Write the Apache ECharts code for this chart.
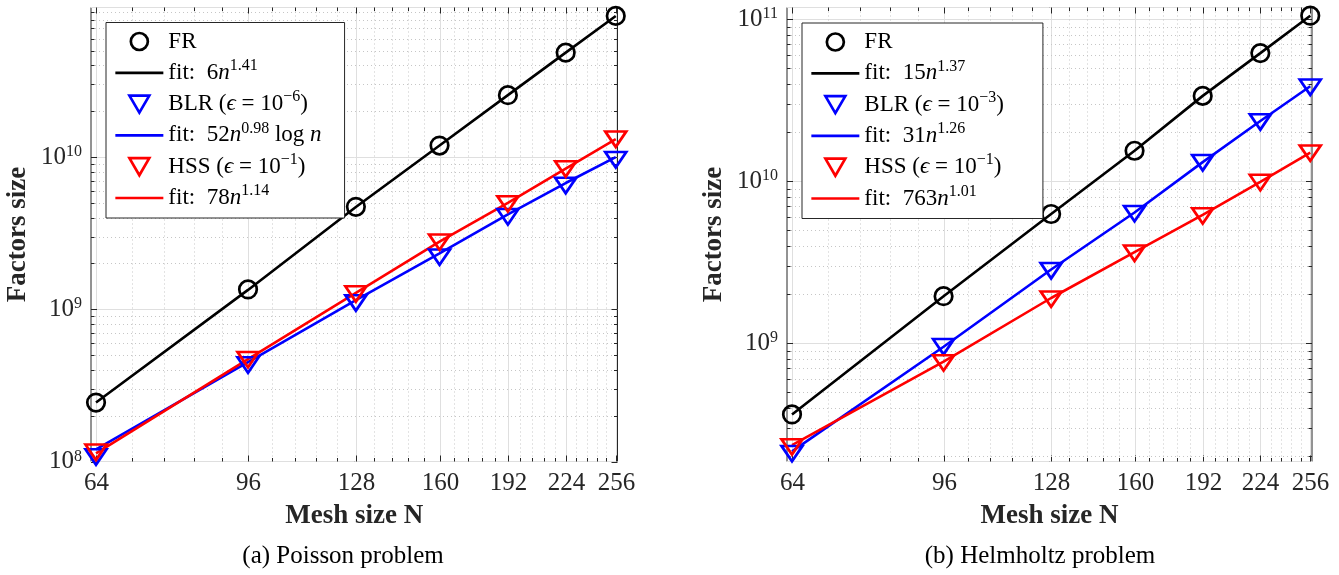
<!DOCTYPE html>
<html><head><meta charset="utf-8">
<script src="https://cdn.jsdelivr.net/npm/echarts@6/dist/echarts.min.js"></script>
<style>html,body{margin:0;padding:0;background:#fff}#c{width:1339px;height:575px}</style>
</head><body><div id="c"></div>
<script>
// ---------- data ----------
const meshN = [64, 96, 128, 160, 192, 224, 256];
const xTickLabels = ['64', '96', '128', '160', '192', '224', '256'];
const xMinorTicks = [70.4, 76.8, 83.2, 89.6, 102.4, 108.8, 115.2, 121.6, 134.4, 140.8, 147.2, 153.6,
  166.4, 172.8, 179.2, 185.6, 198.4, 204.8, 211.2, 217.6, 230.4, 236.8, 243.2, 249.6];

const poissonYMajor = [1e8, 1e9, 1e10];
const poissonYMinor = [2e8, 3e8, 4e8, 5e8, 6e8, 7e8, 8e8, 9e8, 2e9, 3e9, 4e9, 5e9, 6e9, 7e9, 8e9, 9e9,
  2e10, 3e10, 4e10, 5e10, 6e10, 7e10, 8e10, 9e10];
const helmYMajor = [1e9, 1e10, 1e11];
const helmYMinor = [2e8, 3e8, 4e8, 5e8, 6e8, 7e8, 8e8, 9e8, 2e9, 3e9, 4e9, 5e9, 6e9, 7e9, 8e9, 9e9,
  2e10, 3e10, 4e10, 5e10, 6e10, 7e10, 8e10, 9e10];

// (a) Poisson
const poissonFR     = [2.44e8, 1.35e9, 4.71e9, 1.19e10, 2.55e10, 4.85e10, 8.45e10];
const poissonFRFit  = [2.44e8, 1.34e9, 4.70e9, 1.19e10, 2.55e10, 4.85e10, 8.45e10];
const poissonBLR    = [1.07e8, 4.30e8, 1.10e9, 2.20e9, 4.05e9, 6.50e9, 9.60e9];
const poissonBLRFit = [1.20e8, 4.50e8, 1.15e9, 2.33e9, 4.20e9, 6.75e9, 1.00e10];
const poissonHSS    = [1.15e8, 4.67e8, 1.26e9, 2.76e9, 4.92e9, 8.34e9, 1.31e10];
const poissonHSSFit = [1.13e8, 4.70e8, 1.28e9, 2.78e9, 5.00e9, 8.40e9, 1.31e10];

// (b) Helmholtz
const helmFR     = [3.63e8, 1.95e9, 6.27e9, 1.54e10, 3.36e10, 6.17e10, 1.05e11];
const helmFRFit  = [3.63e8, 1.95e9, 6.27e9, 1.54e10, 3.36e10, 6.17e10, 1.05e11];
const helmBLR    = [2.08e8, 9.50e8, 2.80e9, 6.30e9, 1.30e10, 2.32e10, 3.80e10];
const helmBLRFit = [2.15e8, 9.50e8, 2.85e9, 6.40e9, 1.31e10, 2.35e10, 3.85e10];
const helmHSS    = [2.29e8, 7.55e8, 1.87e9, 3.59e9, 6.10e9, 9.80e9, 1.49e10];
const helmHSSFit = [2.35e8, 7.70e8, 1.90e9, 3.65e9, 6.20e9, 9.90e9, 1.50e10];

const legendA = {
  'FR': '{r|FR}',
  'fit FR': '{r|fit:  6}{i|n}{s|1.41}',
  'BLR': '{r|BLR (}{i|ϵ}{r| = 10}{s|−6}{r|)}',
  'fit BLR': '{r|fit:  52}{i|n}{s|0.98}{r| log }{i|n}',
  'HSS': '{r|HSS (}{i|ϵ}{r| = 10}{s|−1}{r|)}',
  'fit HSS': '{r|fit:  78}{i|n}{s|1.14}'
};
const legendB = {
  'FR': '{r|FR}',
  'fit FR': '{r|fit:  15}{i|n}{s|1.37}',
  'BLR': '{r|BLR (}{i|ϵ}{r| = 10}{s|−3}{r|)}',
  'fit BLR': '{r|fit:  31}{i|n}{s|1.26}',
  'HSS': '{r|HSS (}{i|ϵ}{r| = 10}{s|−1}{r|)}',
  'fit HSS': '{r|fit:  763}{i|n}{s|1.01}'
};

// ---------- style ----------
const FONT = 'Liberation Serif';
const INK = '#262626';
const MAJOR_GRID = '#dfdfdf';
const MINOR_GRID = '#c6c6c6';
const TRI = 'path://M0,0 L21,0 L10.5,18 Z';
const grids = [
  { left: 91, top: 7.5, width: 526.5, height: 454 },
  { left: 787, top: 7.5, width: 525, height: 454 }
];
const yRange = [[1e8, 9.6e10], [1.86e8, 1.18e11]];
const xRange = [63.15, 257.2];
const legendPos = [{ left: 106, top: 22.5 }, { left: 802, top: 23 }];
const legendPadRight = [23, 39];
const captions = [{ x: 343, text: '(a) Poisson problem' }, { x: 1040, text: '(b) Helmholtz problem' }];

function pairs(ys) { return meshN.map((n, i) => [n, ys[i]]); }

function decorSeries(gi, axis, values, major, labels) {
  const xRef = 100, yRef = 1e9;
  return {
    type: 'custom', coordinateSystem: 'cartesian2d', xAxisIndex: gi, yAxisIndex: gi,
    silent: true, z: 1, clip: false,
    data: values.map(v => axis === 'x' ? [v, yRef] : [xRef, v]),
    renderItem: function (params, api) {
      const cs = params.coordSys;
      const len = major ? 6 : 3.5;
      const ch = [];
      const gridStyle = major ? { stroke: MAJOR_GRID, lineWidth: 1 }
                              : { stroke: MINOR_GRID, lineWidth: 1, lineDash: [1, 3] };
      const tickStyle = { stroke: INK, lineWidth: 1 };
      if (axis === 'x') {
        const px = Math.round(api.coord([api.value(0), api.value(1)])[0]) + 0.5;
        const top = cs.y, bot = cs.y + cs.height;
        ch.push({ type: 'line', shape: { x1: px, y1: top, x2: px, y2: bot }, style: gridStyle });
        ch.push({ type: 'line', shape: { x1: px, y1: bot, x2: px, y2: bot - len }, style: tickStyle });
        ch.push({ type: 'line', shape: { x1: px, y1: top, x2: px, y2: top + len }, style: tickStyle });
        if (labels) {
          ch.push({ type: 'text', x: px, y: bot + 22,
            style: { text: labels[params.dataIndex], fill: INK, font: '25px "' + FONT + '"',
                     align: 'center', verticalAlign: 'middle' } });
        }
      } else {
        const py = Math.round(api.coord([api.value(0), api.value(1)])[1]) + 0.5;
        const l = cs.x, r = cs.x + cs.width;
        if (!major) ch.push({ type: 'line', shape: { x1: l, y1: py, x2: r, y2: py }, style: gridStyle });
        ch.push({ type: 'line', shape: { x1: l, y1: py, x2: l + len, y2: py }, style: tickStyle });
        ch.push({ type: 'line', shape: { x1: r, y1: py, x2: r - len, y2: py }, style: tickStyle });
      }
      return { type: 'group', children: ch };
    }
  };
}

function dataSeries(gi, d) {
  const common = { xAxisIndex: gi, yAxisIndex: gi };
  const mk = (name, ys, col, isTri) => Object.assign({
    type: 'scatter', name: name, data: pairs(ys),
    symbol: isTri ? TRI : 'circle', symbolSize: isTri ? [21, 18] : 17.5, symbolKeepAspect: true,
    itemStyle: { color: 'none', borderColor: col, borderWidth: 2.7, opacity: 1 }, z: 3
  }, common);
  const ln = (name, ys, col) => Object.assign({
    type: 'line', name: name, data: pairs(ys), symbol: 'line', showSymbol: false, symbolSize: 0,
    lineStyle: { color: col, width: 2.6 }, itemStyle: { color: col }, z: 3
  }, common);
  return [
    mk('FR', d.fr, '#000000', false),
    ln('fit FR', d.frFit, '#000000'),
    mk('BLR', d.blr, '#0000ff', true),
    ln('fit BLR', d.blrFit, '#0000ff'),
    mk('HSS', d.hss, '#ff0000', true),
    ln('fit HSS', d.hssFit, '#ff0000')
  ];
}

function fmtY(v) {
  const e = Math.log10(v), r = Math.round(e);
  if (Math.abs(e - r) > 0.01) return '';
  return '{b|10}{s|' + r + '}';
}

const richText = {
  r: { fontFamily: FONT, fontSize: 23, lineHeight: 30, color: '#000' },
  i: { fontFamily: FONT, fontSize: 23, lineHeight: 30, fontStyle: 'italic', color: '#000' },
  s: { fontFamily: FONT, fontSize: 16, lineHeight: 16, verticalAlign: 'top', color: '#000' }
};

const names = ['FR', 'fit FR', 'BLR', 'fit BLR', 'HSS', 'fit HSS'];

const option = {
  backgroundColor: '#ffffff',
  animation: false,
  grid: grids.map(g => Object.assign({ show: true, borderColor: INK, borderWidth: 1,
    backgroundColor: '#ffffff', containLabel: false }, g)),
  xAxis: [0, 1].map(gi => ({
    type: 'log', gridIndex: gi, min: xRange[0], max: xRange[1],
    axisLine: { show: false }, axisTick: { show: false }, axisLabel: { show: false },
    splitLine: { show: false }, minorTick: { show: false },
    name: 'Mesh size N', nameLocation: 'middle', nameGap: 41,
    nameTextStyle: { fontFamily: FONT, fontWeight: 'bold', fontSize: 27, color: INK }
  })),
  yAxis: [0, 1].map(gi => ({
    type: 'log', gridIndex: gi, min: yRange[gi][0], max: yRange[gi][1],
    axisLine: { show: false }, axisTick: { show: false },
    splitLine: { show: true, lineStyle: { color: MAJOR_GRID, width: 1 } },
    axisLabel: {
      formatter: fmtY, margin: 9, color: INK,
      rich: {
        b: { fontFamily: FONT, fontSize: 25, lineHeight: 26, color: INK },
        s: { fontFamily: FONT, fontSize: 16, lineHeight: 14, verticalAlign: 'top', color: INK }
      }
    },
    name: 'Factors size', nameLocation: 'middle', nameGap: 59,
    nameTextStyle: { fontFamily: FONT, fontWeight: 'bold', fontSize: 27, color: INK }
  })),
  legend: [0, 1].map(gi => ({
    data: names, orient: 'vertical', left: legendPos[gi].left, top: legendPos[gi].top,
    itemWidth: 48, itemHeight: 17, itemGap: 4.8, padding: [7.5, legendPadRight[gi], 8.5, 8],
    borderColor: INK, borderWidth: 1, backgroundColor: '#ffffff',
    selectedMode: false,
    itemStyle: { borderWidth: 2.7 },
    lineStyle: { width: 2.7 },
    formatter: n => (gi === 0 ? legendA : legendB)[n],
    textStyle: { fontFamily: FONT, fontSize: 23, color: '#000', rich: richText }
  })),
  graphic: captions.map(c => ({
    type: 'text', x: c.x, y: 556,
    style: { text: c.text, fill: '#000', font: '25px "' + FONT + '"', align: 'center', verticalAlign: 'middle' }
  })),
  series: [].concat(
    decorSeries(0, 'x', xMinorTicks, false),
    decorSeries(0, 'x', meshN, true, xTickLabels),
    decorSeries(0, 'y', poissonYMinor, false),
    decorSeries(0, 'y', poissonYMajor, true),
    decorSeries(1, 'x', xMinorTicks, false),
    decorSeries(1, 'x', meshN, true, xTickLabels),
    decorSeries(1, 'y', helmYMinor, false),
    decorSeries(1, 'y', helmYMajor, true),
    dataSeries(0, { fr: poissonFR, frFit: poissonFRFit, blr: poissonBLR, blrFit: poissonBLRFit,
                    hss: poissonHSS, hssFit: poissonHSSFit }),
    dataSeries(1, { fr: helmFR, frFit: helmFRFit, blr: helmBLR, blrFit: helmBLRFit,
                    hss: helmHSS, hssFit: helmHSSFit })
  )
};

const chart = echarts.init(document.getElementById('c'), null, { renderer: 'canvas' });
chart.setOption(option);
</script>
</body></html>
